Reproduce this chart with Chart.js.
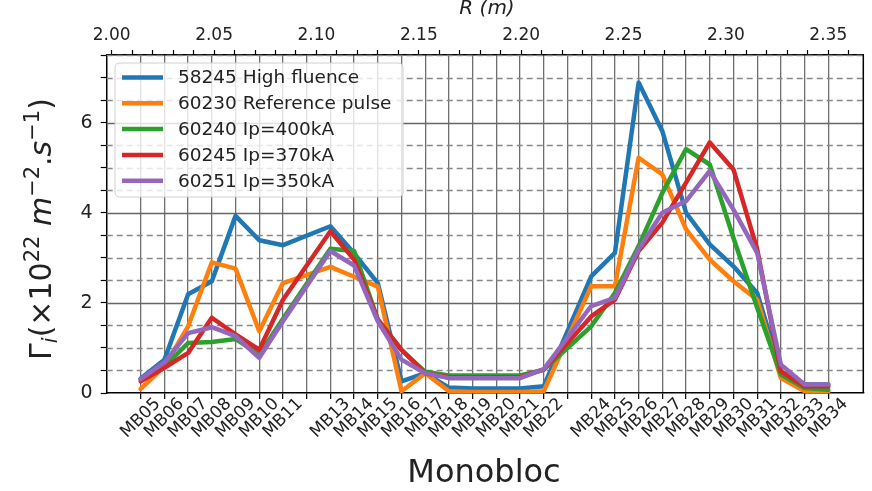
<!DOCTYPE html>
<html><head><meta charset="utf-8">
<script src="https://cdn.jsdelivr.net/npm/chart.js@4.4.0/dist/chart.umd.min.js"></script>
<style>html,body{margin:0;padding:0;background:#fff;overflow:hidden}#wrap{width:872px;height:491px}</style>
</head><body><div id="wrap"><canvas id="c" width="872" height="491"></canvas></div>
<script>
// ---- data ----
const monoblocs = ['MB05','MB06','MB07','MB08','MB09','MB10','MB11','MB13','MB14','MB15','MB16','MB17','MB18','MB19','MB20','MB21','MB22','MB24','MB25','MB26','MB27','MB28','MB29','MB30','MB31','MB32','MB33','MB34'];
const seriesNames = ['58245 High fluence','60230 Reference pulse','60240 Ip=400kA','60245 Ip=370kA','60251 Ip=350kA'];
const s58245 = [0.32,0.74,2.19,2.48,3.93,3.39,3.28,3.70,3.10,2.44,0.26,0.44,0.12,0.10,0.10,0.10,0.15,2.59,3.11,6.89,5.81,4.00,3.30,2.81,2.22,0.48,0.19,0.19];
const s60230 = [0.09,0.59,1.48,2.90,2.76,1.37,2.44,2.80,2.58,2.36,0.04,0.44,0.04,0.02,0.02,0.02,0.04,2.37,2.37,5.22,4.85,3.63,2.96,2.48,2.07,0.33,0.04,0.04];
const s60240 = [0.30,0.59,1.11,1.13,1.20,0.85,1.65,3.20,3.15,1.63,0.95,0.47,0.39,0.39,0.39,0.39,0.52,1.48,2.22,3.26,4.44,5.41,5.07,3.44,1.89,0.41,0.11,0.07];
const s60245 = [0.26,0.56,0.89,1.67,1.30,0.96,2.07,3.59,2.96,1.63,0.96,0.44,0.35,0.35,0.35,0.35,0.52,1.70,2.07,3.15,3.78,4.67,5.56,4.96,3.19,0.48,0.15,0.15];
const s60251 = [0.31,0.68,1.33,1.46,1.26,0.78,1.59,3.15,2.83,1.59,0.74,0.44,0.33,0.33,0.33,0.33,0.53,1.93,2.11,3.19,4.00,4.26,4.93,4.07,3.11,0.63,0.19,0.19];
const rTickLabels = ['2.00','2.05','2.10','2.15','2.20','2.25','2.30','2.35'];
const yTickLabels = ['0','2','4','6'];
const colors = ['#1f77b4','#ff7f0e','#2ca02c','#d62728','#9467bd'];

// ---- helpers ----
const FONT = "'DejaVu Sans', sans-serif";
const mbNum = l => parseInt(l.slice(2), 10);
const firstMB = mbNum(monoblocs[0]), lastMB = mbNum(monoblocs[monoblocs.length-1]);
const xMin = 3.566, xMax = 35.476;      // monobloc index axis limits
const rMin = 1.99755, rMax = 2.36711;   // R axis limits (m)
const allSeries = [s58245, s60230, s60240, s60245, s60251];

const datasets = allSeries.map((s, k) => ({
  label: seriesNames[k],
  data: monoblocs.map((m, i) => ({x: mbNum(m), y: s[i]})),
  borderColor: colors[k], backgroundColor: colors[k],
  borderWidth: 4.5, pointRadius: 0, tension: 0, fill: false,
  borderJoinStyle: 'round', borderCapStyle: 'round',
  order: allSeries.length - k
}));

const yGridPlugin = {
  id: 'yGrid',
  beforeDatasetsDraw(chart) {
    const {ctx, chartArea: a, scales: {y}} = chart;
    ctx.save();
    y.ticks.forEach(t => {
      const v = t.value; if (v <= 0) return;
      const py = Math.round(y.getPixelForValue(v)) + 0.5;
      const major = Math.abs(v / 2 - Math.round(v / 2)) < 1e-6;
      ctx.setLineDash(major ? [] : [6, 4]);
      ctx.strokeStyle = major ? '#666' : '#888';
      ctx.lineWidth = 1.3;
      ctx.beginPath(); ctx.moveTo(a.left, py); ctx.lineTo(a.right, py); ctx.stroke();
    });
    ctx.restore();
  }
};

const decorPlugin = {
  id: 'decor',
  afterDraw(chart) {
    const {ctx, chartArea: a, scales: {x}} = chart;
    ctx.save();
    // right spine
    ctx.strokeStyle = '#000'; ctx.lineWidth = 1.5;
    ctx.beginPath(); ctx.moveTo(a.right, a.top); ctx.lineTo(a.right, a.bottom); ctx.stroke();
    // bottom monobloc labels, rotated 45deg, centred on the tick
    ctx.fillStyle = '#222'; ctx.font = '17px ' + FONT;
    ctx.textAlign = 'center'; ctx.textBaseline = 'middle';
    monoblocs.forEach(m => {
      const px = x.getPixelForValue(mbNum(m));
      const w = ctx.measureText(m).width;
      const ext = (w + 12) / Math.SQRT2;
      ctx.save();
      ctx.translate(px, a.bottom + 4 + ext / 2);
      ctx.rotate(-Math.PI / 4);
      ctx.fillText(m, 0, 0);
      ctx.restore();
    });
    // legend
    const lx = 115, ly = 63, lw = 288, lh = 134, r = 5;
    ctx.beginPath();
    ctx.moveTo(lx + r, ly); ctx.lineTo(lx + lw - r, ly); ctx.quadraticCurveTo(lx + lw, ly, lx + lw, ly + r);
    ctx.lineTo(lx + lw, ly + lh - r); ctx.quadraticCurveTo(lx + lw, ly + lh, lx + lw - r, ly + lh);
    ctx.lineTo(lx + r, ly + lh); ctx.quadraticCurveTo(lx, ly + lh, lx, ly + lh - r);
    ctx.lineTo(lx, ly + r); ctx.quadraticCurveTo(lx, ly, lx + r, ly); ctx.closePath();
    ctx.fillStyle = 'rgba(255,255,255,0.8)'; ctx.fill();
    ctx.strokeStyle = '#d0d0d0'; ctx.lineWidth = 1; ctx.stroke();
    ctx.font = '18.5px ' + FONT; ctx.textBaseline = 'middle'; ctx.textAlign = 'left';
    chart.data.datasets.forEach((d, i) => {
      const yy = 77.5 + i * 25.8;
      ctx.strokeStyle = d.borderColor; ctx.lineWidth = 4.5; ctx.lineCap = 'butt';
      ctx.beginPath(); ctx.moveTo(122, yy); ctx.lineTo(163, yy); ctx.stroke();
      ctx.fillStyle = '#222'; ctx.fillText(d.label, 178, yy + 1);
    });
    // x title
    ctx.fillStyle = '#222'; ctx.textAlign = 'center'; ctx.textBaseline = 'alphabetic';
    ctx.font = '32px ' + FONT;
    ctx.fillText('Monobloc', 484, 482);
    // top title
    ctx.font = 'italic 20px ' + FONT;
    ctx.fillText('R (m)', 487, 14);
    // y title
    ctx.translate(51, 229); ctx.rotate(-Math.PI / 2);
    const B = 30, S = 21;
    const parts = [
      {t: 'Γ', s: B, it: false, dy: 0},
      {t: 'i', s: S, it: true, dy: 6},
      {t: '(×10', s: B, it: false, dy: 0},
      {t: '22', s: S, it: false, dy: -12},
      {t: ' ', s: B, it: false, dy: 0},
      {t: 'm', s: B, it: true, dy: 0},
      {t: '−2', s: S, it: false, dy: -12},
      {t: '.', s: B, it: false, dy: 0},
      {t: 's', s: B, it: true, dy: 0},
      {t: '−1', s: S, it: false, dy: -12},
      {t: ')', s: B, it: false, dy: 0}
    ];
    let total = 0;
    parts.forEach(p => { ctx.font = (p.it ? 'italic ' : '') + p.s + 'px ' + FONT; p.w = ctx.measureText(p.t).width; total += p.w; });
    let cx = -total / 2; ctx.textAlign = 'left';
    parts.forEach(p => { ctx.font = (p.it ? 'italic ' : '') + p.s + 'px ' + FONT; ctx.fillText(p.t, cx, p.dy); cx += p.w; });
    ctx.restore();
  }
};

const bottomTicks = [];
for (let n = firstMB; n <= lastMB; n++) bottomTicks.push(n);
const topTicks = [];
for (let i = 0; i <= 36; i++) topTicks.push(Math.round((2 + i * 0.01) * 100) / 100);
const yTicks = [];
for (let i = 0; i <= 15; i++) yTicks.push(i * 0.5);

new Chart(document.getElementById('c'), {
  type: 'line',
  data: {datasets},
  options: {
    responsive: false, animation: false,
    layout: {padding: {left: 0, right: 8.7, top: 0, bottom: 0}},
    plugins: {legend: {display: false}, tooltip: {enabled: false}},
    scales: {
      x: {
        type: 'linear', position: 'bottom', min: xMin, max: xMax,
        afterBuildTicks: s => { s.ticks = bottomTicks.map(v => ({value: v})); },
        afterFit: s => { s.height = 98; },
        ticks: {autoSkip: false, maxRotation: 0, minRotation: 0, callback: () => ''},
        grid: {color: '#6e6e6e', lineWidth: 1.3, drawTicks: true, tickLength: 6, tickColor: '#000', tickWidth: 1.2},
        border: {color: '#000', width: 1.5}
      },
      x2: {
        type: 'linear', position: 'top', min: rMin, max: rMax,
        afterBuildTicks: s => { s.ticks = topTicks.map(v => ({value: v})); },
        afterFit: s => { s.height = 55; },
        ticks: {autoSkip: false, maxRotation: 0, minRotation: 0, padding: 4, color: '#222',
          font: {family: FONT, size: 17},
          callback: v => { const l = rTickLabels.find(t => Math.abs(parseFloat(t) - v) < 1e-6); return l || ''; }},
        grid: {drawOnChartArea: false, drawTicks: true, tickLength: 5, tickColor: '#000', tickWidth: 1.2},
        border: {color: '#000', width: 1.5}
      },
      y: {
        type: 'linear', position: 'left', min: 0, max: 7.5,
        afterBuildTicks: s => { s.ticks = yTicks.map(v => ({value: v})); },
        afterFit: s => { s.width = 106.7; },
        ticks: {autoSkip: false, padding: 8, color: '#222', font: {family: FONT, size: 19},
          callback: v => { const l = yTickLabels.find(t => Math.abs(parseFloat(t) - v) < 1e-6); return l || ''; }},
        grid: {drawOnChartArea: false, drawTicks: true, tickLength: 6, tickColor: '#000', tickWidth: 1.2},
        border: {color: '#000', width: 1.5}
      }
    }
  },
  plugins: [yGridPlugin, decorPlugin]
});
</script></body></html>
